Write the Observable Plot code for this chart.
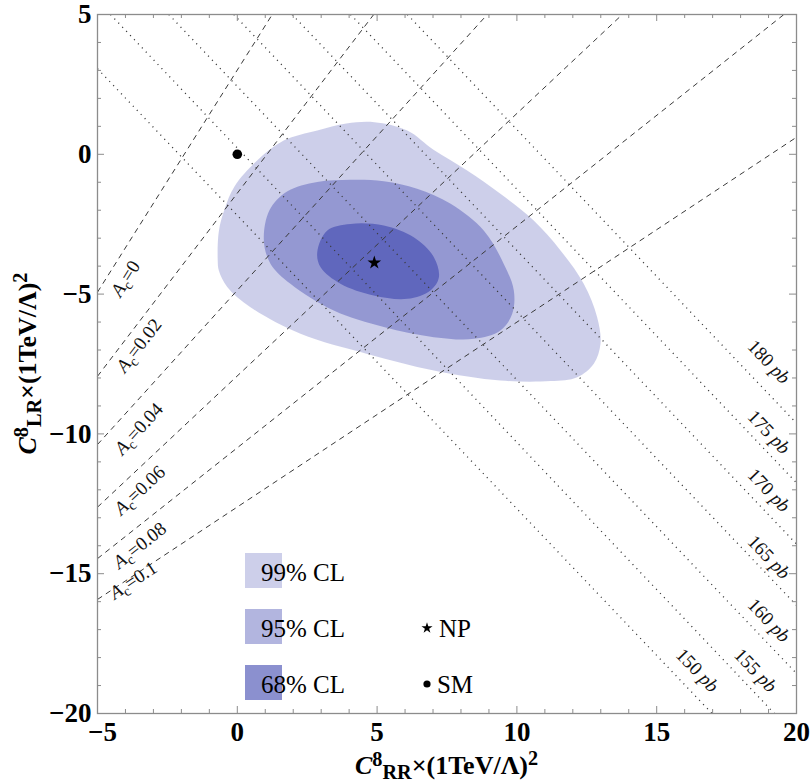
<!DOCTYPE html>
<html><head><meta charset="utf-8">
<script src="https://cdn.jsdelivr.net/npm/d3@7"></script>
<script src="https://cdn.jsdelivr.net/npm/@observablehq/plot@0.6"></script>
<style>html,body{margin:0;padding:0;background:#fff;} #chart{width:811px;height:784px;}</style>
</head><body><div id="chart"></div>
<script>
// ---------- data ----------
const xTicks = [-5, 0, 5, 10, 15, 20];
const yTicks = [-20, -15, -10, -5, 0, 5];
const xTickLabels = ["−5", "0", "5", "10", "15", "20"];
const yTickLabels = ["−20", "−15", "−10", "−5", "0", "5"];
const minorTicks = [-5,-4,-3,-2,-1,0,1,2,3,4,5,6,7,8,9,10,11,12,13,14,15,16,17,18,19,20];

// confidence regions (C_RR, C_LR)
const region99 = [[-0.70,-3.80],[-0.66,-2.75],[-0.45,-1.95],[-0.10,-1.15],[0.71,-0.22],[1.66,0.49],[2.86,0.85],[3.9,1.1],[4.9,1.15],[6.08,0.85],[7.03,0.15],[8.22,-0.58],[9.41,-1.41],[10.6,-2.37],[11.56,-3.44],[12.39,-4.63],[12.87,-5.83],[12.99,-6.78],[12.75,-7.49],[12.16,-7.97],[11.2,-8.11],[9.41,-8.09],[7.03,-7.73],[4.65,-7.14],[2.26,-6.42],[0.47,-5.47],[-0.36,-4.75],[-0.66,-4.16]];
const region95 = [[0.95,-3.08],[1.15,-2.0],[1.78,-1.33],[2.86,-0.99],[4.05,-0.91],[5.24,-0.96],[6.43,-1.23],[7.63,-1.77],[8.82,-2.73],[9.53,-3.92],[9.89,-4.87],[9.83,-5.71],[9.41,-6.30],[8.46,-6.60],[7.03,-6.54],[5.24,-6.18],[3.45,-5.59],[1.90,-4.63],[1.19,-3.92]];
const region68 = [[2.86,-3.50],[3.21,-2.73],[4.05,-2.49],[5.24,-2.55],[6.31,-2.97],[7.03,-3.68],[7.21,-4.40],[6.91,-4.87],[6.08,-5.17],[4.88,-5.05],[3.69,-4.63],[2.98,-4.04]];
const clNames = ["99% CL", "95% CL", "68% CL"];
const clOpacity = [0.26, 0.40, 0.60];
const clColor = "rgb(62,70,175)";

// A_c contours (dashed)
const acValues = ["0", "0.02", "0.04", "0.06", "0.08", "0.1"];
const acStart = [[-5,-4.93],[-5,-7.94],[-5,-10.38],[-5,-12.62],[-5,-14.46],[-5,-15.92]];
const acEnd = [[1.25,5],[4.88,5],[8.94,5],[13.77,5],[19.55,5],[20,0.61]];
const acLabelAt = [[-4.0,-4.45],[-3.52,-6.84],[-3.52,-9.82],[-3.49,-12.02],[-3.49,-13.99],[-3.72,-15.24]];

// cross-section contours (dotted)
const xsecValues = [150, 155, 160, 165, 170, 175, 180];
const xsecStart = [[-5,3.06],[-4.535,5],[-2.45,5],[-0.125,5],[1.96,5],[4.05,5],[6.08,5]];
const xsecEnd = [[16.98,-20],[19.21,-20],[20,-18.57],[20,-16.13],[20,-13.94],[20,-11.75],[20,-9.62]];
const xsecLabelAt = [[16.45,-18.46],[18.53,-18.46],[19.01,-16.67],[19.01,-14.41],[19.01,-12.02],[19.01,-9.94],[19.01,-7.43]];

const npPoint = [4.9, -3.88];
const smPoint = [0, 0];

// ---------- build ----------
const W = 811, H = 784;
const mL = 97, mR = 15, mT = 14, mB = 71;
const plotW = W - mL - mR, plotH = H - mT - mB;
const angleOf = (s, e) => -Math.atan2(e[1] - s[1], e[0] - s[0]) * 180 / Math.PI;

const acLines = acValues.map((v, i) => ({v, x1: acStart[i][0], y1: acStart[i][1], x2: acEnd[i][0], y2: acEnd[i][1],
  lx: acLabelAt[i][0], ly: acLabelAt[i][1], angle: angleOf(acStart[i], acEnd[i])}));
const xsLines = xsecValues.map((v, i) => ({v, x1: xsecStart[i][0], y1: xsecStart[i][1], x2: xsecEnd[i][0], y2: xsecEnd[i][1],
  lx: xsecLabelAt[i][0], ly: xsecLabelAt[i][1], angle: angleOf(xsecStart[i], xsecEnd[i])}));
const regions = [region99, region95, region68];

const frameColor = "#8c8c8c";
const font = "Liberation Serif, Times New Roman, serif";
const xMinor = minorTicks.filter(t => !xTicks.includes(t));
const yMinor = minorTicks.map(t => t - 15).filter(t => !yTicks.includes(t));

const chart = Plot.plot({
  width: W, height: H,
  marginLeft: mL, marginRight: mR, marginTop: mT, marginBottom: mB,
  x: {domain: [-5, 20]},
  y: {domain: [-20, 5]},
  style: {fontFamily: font, background: "white", color: "black"},
  marks: [
    ...regions.map((r, i) => Plot.line(r, {x: d => d[0], y: d => d[1], curve: "catmull-rom-closed",
      fill: clColor, fillOpacity: clOpacity[i], stroke: "none"})),
    Plot.link(acLines, {x1: "x1", y1: "y1", x2: "x2", y2: "y2", stroke: "#3a3a3a", strokeWidth: 1, strokeDasharray: "5.5,4.5"}),
    Plot.link(xsLines, {x1: "x1", y1: "y1", x2: "x2", y2: "y2", stroke: "#3a3a3a", strokeWidth: 1.3, strokeDasharray: "1.1,4.6"}),
    Plot.text(acLines, {x: "lx", y: "ly", text: d => "A=" + d.v, rotate: "angle", fontSize: 19, fontFamily: font,
      fill: "#111", textAnchor: "middle"}),
    Plot.text(xsLines, {x: "lx", y: "ly", text: d => d.v + " pb", rotate: "angle", fontSize: 19, fontFamily: font,
      fill: "#111", textAnchor: "middle"}),
    Plot.dot([smPoint], {x: d => d[0], y: d => d[1], r: 4.8, fill: "black", stroke: "none"}),
    Plot.dot([npPoint], {x: d => d[0], y: d => d[1], r: 4.3, symbol: "star", fill: "black", stroke: "none"}),
    Plot.frame({stroke: frameColor, strokeWidth: 1.3}),
    // inward ticks on all four sides
    Plot.tickX(xMinor, {x: d => d, insetTop: plotH - 4, stroke: frameColor}),
    Plot.tickX(xTicks, {x: d => d, insetTop: plotH - 7, stroke: frameColor}),
    Plot.tickX(xMinor, {x: d => d, insetBottom: plotH - 4, stroke: frameColor}),
    Plot.tickX(xTicks, {x: d => d, insetBottom: plotH - 7, stroke: frameColor}),
    Plot.tickY(yMinor, {y: d => d, insetRight: plotW - 4, stroke: frameColor}),
    Plot.tickY(yTicks, {y: d => d, insetRight: plotW - 7, stroke: frameColor}),
    Plot.tickY(yMinor, {y: d => d, insetLeft: plotW - 4, stroke: frameColor}),
    Plot.tickY(yTicks, {y: d => d, insetLeft: plotW - 7, stroke: frameColor}),
    Plot.axisX({ticks: xTicks, anchor: "bottom", tickSize: 0, tickPadding: 8,
      tickFormat: d => xTickLabels[xTicks.indexOf(d)], fontSize: 27, fontWeight: "bold", fontFamily: font, fill: "black", label: null}),
    Plot.axisY({ticks: yTicks, anchor: "left", tickSize: 0, tickPadding: 6,
      tickFormat: d => yTickLabels[yTicks.indexOf(d)], fontSize: 27, fontWeight: "bold", fontFamily: font, fill: "black", label: null})
  ]
});
document.getElementById("chart").appendChild(chart);

const svg = d3.select(chart);
// contour labels: italic A with subscript c, italic "pb"
svg.selectAll("text").each(function () {
  const t = d3.select(this);
  if (t.selectAll("tspan").size() > 0) return;
  const s = t.text();
  if (s.startsWith("A=")) {
    const v = s.slice(2);
    t.text(null);
    t.append("tspan").attr("font-style", "italic").text("A");
    t.append("tspan").attr("font-size", "75%").attr("dy", "0.3em").text("c");
    t.append("tspan").attr("dy", "-0.23em").text("=" + v);
  } else if (s.endsWith(" pb")) {
    const v = s.slice(0, -3);
    t.text(null);
    t.append("tspan").text(v + " ");
    t.append("tspan").attr("font-style", "italic").text("pb");
  }
});
// nudge the corner "−5" x label slightly right, as in the original
svg.selectAll('g[aria-label="x-axis tick label"] text').filter(function () { return d3.select(this).text() === "−5"; })
  .attr("dx", 5);

// axis titles (relative shifts only, so the whole title stays one centred chunk)
function title(g, sub) {
  g.append("tspan").attr("font-style", "italic").text("C");
  g.append("tspan").attr("dy", -8).attr("font-size", "78%").text("8");
  g.append("tspan").attr("dy", 13).attr("font-size", "78%").text(sub);
  g.append("tspan").attr("dy", -5).text("×(1TeV/Λ)");
  g.append("tspan").attr("dy", -9).attr("font-size", "78%").text("2");
}
const xt = svg.append("text").attr("transform", `translate(${mL + plotW / 2},774)`).attr("text-anchor", "middle")
  .attr("font-family", font).attr("font-weight", "bold").attr("font-size", 26).attr("fill", "black");
title(xt, "RR");
const yt = svg.append("text").attr("transform", `translate(36,${mT + plotH / 2}) rotate(-90)`).attr("text-anchor", "middle")
  .attr("font-family", font).attr("font-weight", "bold").attr("font-size", 26).attr("fill", "black");
title(yt, "LR");

// legend
const lg = svg.append("g").attr("font-family", font).attr("font-size", 25).attr("fill", "black");
const rowY = [553, 609, 665];
clNames.forEach((name, i) => {
  lg.append("rect").attr("x", 245).attr("y", rowY[i]).attr("width", 37).attr("height", 35)
    .attr("fill", clColor).attr("fill-opacity", clOpacity[i]);
  lg.append("text").attr("x", 303).attr("y", rowY[i] + 28).text(name);
});
lg.append("path").attr("d", d3.symbol(d3.symbolStar, 38)()).attr("transform", `translate(427,${rowY[1] + 19})`).attr("fill", "black");
lg.append("text").attr("x", 455).attr("y", rowY[1] + 28).text("NP");
lg.append("circle").attr("cx", 427).attr("cy", rowY[2] + 19).attr("r", 3.6).attr("fill", "black");
lg.append("text").attr("x", 455).attr("y", rowY[2] + 28).text("SM");
</script>
</body></html>
